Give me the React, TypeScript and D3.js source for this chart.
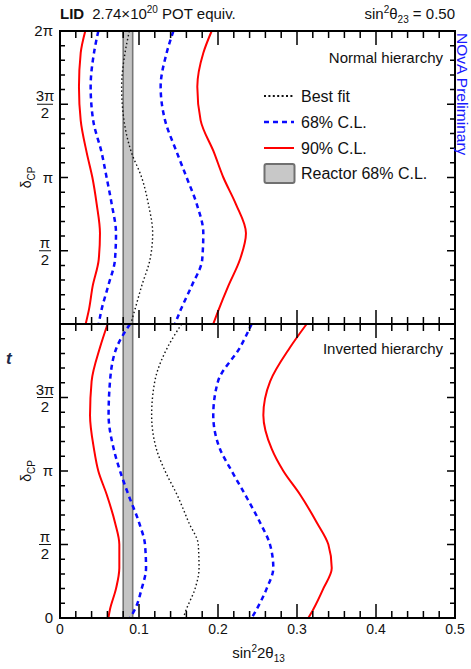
import React from "react";
import * as d3 from "d3";

// delta_CP in units of pi, and sin^2(2 theta13)
const nhDelta = [2.0, 1.85, 1.62, 1.39, 1.17, 1.0, 0.82, 0.62, 0.44, 0.26, 0.1, 0];
const nh90Left = [0.032, 0.0262, 0.024, 0.0262, 0.0338, 0.041, 0.0464, 0.0506, 0.049, 0.0414, 0.0367, 0.0325];
const nh68Left = [0.0485, 0.043, 0.0388, 0.042, 0.0527, 0.059, 0.0654, 0.0709, 0.0696, 0.061, 0.0527, 0.049];
const nhBest = [0.0878, 0.0823, 0.078, 0.081, 0.0905, 0.1034, 0.1118, 0.1173, 0.1139, 0.1034, 0.0949, 0.0895];
const nh68Right = [0.1435, 0.135, 0.1274, 0.133, 0.148, 0.1603, 0.173, 0.1814, 0.18, 0.1667, 0.153, 0.1456];
const nh90Right = [0.192, 0.1814, 0.1738, 0.178, 0.195, 0.2068, 0.2225, 0.2354, 0.2278, 0.2131, 0.201, 0.194];

const ihDelta = [2.0, 1.84, 1.61, 1.38, 1.15, 1.0, 0.84, 0.65, 0.5, 0.34, 0.2, 0.06, 0];
const ih90Left = [0.0603, 0.0506, 0.04, 0.038, 0.043, 0.0485, 0.0591, 0.0696, 0.0751, 0.0751, 0.0709, 0.0633, 0.0612];
const ih68Left = [0.0886, 0.0717, 0.0633, 0.0615, 0.068, 0.076, 0.0865, 0.1, 0.1076, 0.1089, 0.1034, 0.0949, 0.0886];
const ihBest = [0.154, 0.136, 0.12, 0.116, 0.122, 0.133, 0.148, 0.163, 0.175, 0.176, 0.171, 0.16, 0.156];
const ih68Right = [0.2426, 0.2278, 0.2, 0.194, 0.2025, 0.2173, 0.2342, 0.2532, 0.2658, 0.27, 0.2616, 0.249, 0.2426];
const ih90Right = [0.3122, 0.2911, 0.266, 0.2574, 0.268, 0.2827, 0.3038, 0.325, 0.3397, 0.344, 0.3333, 0.3207, 0.3143];

const reactorBand = [0.08, 0.092];

const xTickLabels = ["0", "0.1", "0.2", "0.3", "0.4", "0.5"];

const FONT = "'Liberation Sans', Arial, sans-serif";
const W = 471;
const H = 669;
const left = 60;
const right = 455;
const plotTop = 31;
const mid = 324;
const bottom = 618;

const RED = "#ff0000";
const BLUE = "#0a0aff";

const x = d3.scaleLinear().domain([0, 0.5]).range([left, right]);
const yTop = d3.scaleLinear().domain([0, 2]).range([mid, plotTop]);
const yBot = d3.scaleLinear().domain([0, 2]).range([bottom, mid]);

function curvePath(deltas: number[], vals: number[], y: d3.ScaleLinear<number, number>) {
  const pts: [number, number][] = deltas.map((d, i) => [d, vals[i]]);
  const line = d3
    .line<[number, number]>()
    .x((d) => x(d[1]))
    .y((d) => y(d[0]))
    .curve(d3.curveMonotoneY);
  return line(pts) || "";
}

function tickD(y: d3.ScaleLinear<number, number>) {
  const xt = d3.scaleLinear().domain([0, 0.5]).ticks(25);
  const yt = d3.scaleLinear().domain([0, 2]).ticks(20);
  const y0 = y(2);
  const y1 = y(0);
  let d = "";
  xt.forEach((t, i) => {
    const len = i % 5 === 0 ? 14 : 7;
    const px = x(t);
    d += `M${px},${y0}v${len}M${px},${y1}v${-len}`;
  });
  yt.forEach((t, i) => {
    const len = i % 5 === 0 ? 8 : 5;
    const py = y(t);
    d += `M${left},${py}h${len}M${right},${py}h${-len}`;
  });
  return d;
}

function Panel({ y, deltas, c90l, c68l, best, c68r, c90r }: any) {
  const y0 = y(2);
  const y1 = y(0);
  return (
    <g>
      <rect
        x={x(reactorBand[0])}
        y={y0}
        width={x(reactorBand[1]) - x(reactorBand[0])}
        height={y1 - y0}
        fill="#c4c4c4"
        stroke="#767676"
        strokeWidth={1.6}
      />
      <path d={curvePath(deltas, c90l, y)} fill="none" stroke={RED} strokeWidth={2} />
      <path d={curvePath(deltas, c90r, y)} fill="none" stroke={RED} strokeWidth={2} />
      <path d={curvePath(deltas, c68l, y)} fill="none" stroke={BLUE} strokeWidth={2.5} strokeDasharray="5 4" />
      <path d={curvePath(deltas, c68r, y)} fill="none" stroke={BLUE} strokeWidth={2.5} strokeDasharray="5 4" />
      <path d={curvePath(deltas, best, y)} fill="none" stroke="#111" strokeWidth={1.4} strokeDasharray="1.5 2.5" />
    </g>
  );
}

function YLabels({ y, showZero }: any) {
  const fx = 45;
  return (
    <g fontFamily={FONT} fontSize={15} fill="#111">
      {!showZero && (
        <text x={53} y={y(2) + 5} textAnchor="end">2π</text>
      )}
      {showZero && (
        <text x={53} y={y(0) + 5} textAnchor="end">0</text>
      )}
      <text x={fx} y={y(1.5) - 3} textAnchor="middle">3π</text>
      <line x1={fx - 8} x2={fx + 8} y1={y(1.5)} y2={y(1.5)} stroke="#111" strokeWidth={1} />
      <text x={fx} y={y(1.5) + 14} textAnchor="middle">2</text>
      <text x={53} y={y(1) + 5} textAnchor="end">π</text>
      <text x={fx} y={y(0.5) - 3} textAnchor="middle">π</text>
      <line x1={fx - 6} x2={fx + 6} y1={y(0.5)} y2={y(0.5)} stroke="#111" strokeWidth={1} />
      <text x={fx} y={y(0.5) + 14} textAnchor="middle">2</text>
      <text transform={`translate(31,${y(1)}) rotate(-90)`} textAnchor="middle" fontSize={14}>
        δ<tspan fontSize={10} dy={4}>CP</tspan>
      </text>
    </g>
  );
}

export default function App() {
  const legendRows = [
    { label: "Best fit", kind: "best" },
    { label: "68% C.L.", kind: "68" },
    { label: "90% C.L.", kind: "90" },
    { label: "Reactor 68% C.L.", kind: "reactor" },
  ];
  const legendY = [96, 122, 148, 173];
  const ticks = tickD(yTop) + tickD(yBot);
  return (
    <svg width={W} height={H} style={{ position: "absolute", left: 0, top: 0 }} fontFamily={FONT}>
      <Panel y={yTop} deltas={nhDelta} c90l={nh90Left} c68l={nh68Left} best={nhBest} c68r={nh68Right} c90r={nh90Right} />
      <Panel y={yBot} deltas={ihDelta} c90l={ih90Left} c68l={ih68Left} best={ihBest} c68r={ih68Right} c90r={ih90Right} />

      {/* frame */}
      <rect x={left} y={plotTop} width={right - left} height={bottom - plotTop} fill="none" stroke="#000" strokeWidth={2} />
      <line x1={left} x2={right} y1={mid} y2={mid} stroke="#000" strokeWidth={2} />
      <path d={ticks} fill="none" stroke="#000" strokeWidth={1.5} />

      <YLabels y={yTop} showZero={false} />
      <YLabels y={yBot} showZero={true} />

      {/* x tick labels */}
      {xTickLabels.map((l, i) => (
        <text key={l} x={x(i * 0.1)} y={634} textAnchor="middle" fontSize={14} fill="#111">
          {l}
        </text>
      ))}
      <text x={(left + right) / 2 + 1} y={658} textAnchor="middle" fontSize={15} fill="#111">
        sin<tspan fontSize={10} dy={-6}>2</tspan>
        <tspan dy={6}>2θ</tspan>
        <tspan fontSize={10} dy={4}>13</tspan>
      </text>

      {/* header */}
      <text x={left} y={19} fontSize={15} fill="#111">
        <tspan fontWeight="bold">LID</tspan>
        <tspan dx={8}>2.74×10</tspan>
        <tspan fontSize={10} dy={-6}>20</tspan>
        <tspan dy={6}> POT equiv.</tspan>
      </text>
      <text x={right} y={19} fontSize={15} textAnchor="end" fill="#111">
        sin<tspan fontSize={10} dy={-6}>2</tspan>
        <tspan dy={6}>θ</tspan>
        <tspan fontSize={10} dy={4}>23</tspan>
        <tspan dy={-4}> = 0.50</tspan>
      </text>

      <text x={443} y={63} fontSize={15} textAnchor="end" fill="#111">Normal hierarchy</text>
      <text x={443} y={354} fontSize={15} textAnchor="end" fill="#111">Inverted hierarchy</text>

      {/* legend */}
      {legendRows.map((r, i) => {
        const ly = legendY[i];
        return (
          <g key={r.label}>
            {r.kind === "best" && (
              <line x1={264} x2={294} y1={ly} y2={ly} stroke="#111" strokeWidth={1.8} strokeDasharray="2 2.4" />
            )}
            {r.kind === "68" && (
              <line x1={264} x2={294} y1={ly} y2={ly} stroke={BLUE} strokeWidth={2.5} strokeDasharray="5 4" />
            )}
            {r.kind === "90" && (
              <line x1={264} x2={294} y1={ly} y2={ly} stroke={RED} strokeWidth={2} />
            )}
            {r.kind === "reactor" && (
              <rect x={264.5} y={ly - 9} width={30} height={19} rx={2} fill="#c8c8c8" stroke="#707070" strokeWidth={2} />
            )}
            <text x={301} y={ly + 6} fontSize={16} fill="#111">{r.label}</text>
          </g>
        );
      })}

      {/* preliminary tag */}
      <text transform="translate(457,33) rotate(90)" fontSize={15.5} fill="#1a1aff">
        NOvA Preliminary
      </text>

      <text x={6} y={364} fontSize={17} fontWeight="bold" fontStyle="italic" fill="#1c2848" fontFamily={FONT}>
        t
      </text>
    </svg>
  );
}
